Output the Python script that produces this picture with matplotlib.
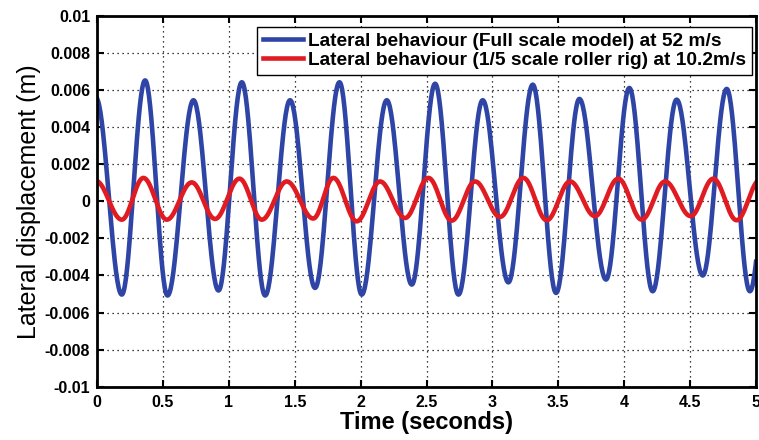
import numpy as np
import matplotlib
matplotlib.use('Agg')
import matplotlib.pyplot as plt

# Extrema (time in s, displacement in m)
blue_t = [-0.01, 0.187, 0.364, 0.534, 0.731, 0.921, 1.098, 1.275, 1.464, 1.654,
          1.839, 2.008, 2.198, 2.388, 2.565, 2.742, 2.926, 3.121, 3.306, 3.483,
          3.660, 3.862, 4.039, 4.216, 4.398, 4.596, 4.778, 4.954, 5.14]
blue_y = [0.0056, -0.00503, 0.00652, -0.00508, 0.00545, -0.00481, 0.00642, -0.00508,
          0.00545, -0.00467, 0.00642, -0.00503, 0.00545, -0.00449, 0.00634, -0.00503,
          0.00545, -0.00437, 0.00629, -0.00494, 0.00552, -0.00422, 0.00611, -0.00485,
          0.00548, -0.00400, 0.00606, -0.00485, 0.0060]

red_t = [-0.01, 0.187, 0.351, 0.529, 0.718, 0.895, 1.080, 1.250, 1.439, 1.640,
         1.793, 1.970, 2.147, 2.337, 2.514, 2.691, 2.868, 3.058, 3.235, 3.412,
         3.589, 3.778, 3.955, 4.133, 4.310, 4.505, 4.676, 4.853, 5.03]
red_y = [0.0011, -0.00099, 0.00126, -0.00099, 0.00102, -0.00095, 0.00122, -0.00099,
         0.00107, -0.00093, 0.00126, -0.00108, 0.00107, -0.00090, 0.00126, -0.00104,
         0.00107, -0.00084, 0.00126, -0.00102, 0.00107, -0.00080, 0.00122, -0.00099,
         0.00107, -0.00080, 0.00122, -0.00102, 0.00115]

labels = ['Lateral behaviour (Full scale model) at 52 m/s',
          'Lateral behaviour (1/5 scale roller rig) at 10.2m/s']
x_ticks = [0, 0.5, 1, 1.5, 2, 2.5, 3, 3.5, 4, 4.5, 5]
x_ticklabels = ['0', '0.5', '1', '1.5', '2', '2.5', '3', '3.5', '4', '4.5', '5']
y_ticks = [-0.01, -0.008, -0.006, -0.004, -0.002, 0, 0.002, 0.004, 0.006, 0.008, 0.01]
y_ticklabels = ['-0.01', '-0.008', '-0.006', '-0.004', '-0.002', '0',
                '0.002', '0.004', '0.006', '0.008', '0.01']


def smooth(ts, ys, n=40):
    # half-cosine segments between consecutive extrema
    xs, vs = [], []
    for i in range(len(ts) - 1):
        s = np.linspace(0, 1, n, endpoint=False)
        w = (1 - np.cos(np.pi * s)) / 2
        xs.append(ts[i] + (ts[i + 1] - ts[i]) * s)
        vs.append(ys[i] + (ys[i + 1] - ys[i]) * w)
    xs.append([ts[-1]])
    vs.append([ys[-1]])
    return np.concatenate(xs), np.concatenate(vs)


plt.rcParams['font.family'] = ['Liberation Sans', 'DejaVu Sans']

fig = plt.figure(figsize=(7.59, 4.40), dpi=100)
ax = fig.add_axes([0.128, 0.121, 0.868, 0.843])

bx, by = smooth(blue_t, blue_y)
rx, ry = smooth(red_t, red_y)
ax.plot(bx, by, color='#2f45a6', linewidth=3.3, label=labels[0])
ax.plot(rx, ry, color='#e01b22', linewidth=3.3, label=labels[1])

ax.set_xlim(0, 5)
ax.set_ylim(-0.01, 0.01)
ax.set_xticks(x_ticks)
ax.set_xticklabels(x_ticklabels)
ax.set_yticks(y_ticks)
ax.set_yticklabels(y_ticklabels)
ax.tick_params(direction='in', length=5, width=1.5, top=True, right=True,
               labelsize=11.5)
ax.tick_params(axis='x', pad=6)
ax.tick_params(axis='y', pad=5)
for lab in ax.get_xticklabels() + ax.get_yticklabels():
    lab.set_fontweight('bold')
ax.grid(True, linestyle=(0, (1, 3)), color='black', linewidth=0.9)
for sp in ax.spines.values():
    sp.set_linewidth(2)

ax.set_xlabel('Time (seconds)', fontsize=17, fontweight='bold', labelpad=1)
ax.set_ylabel('Lateral displacement (m)', fontsize=18, labelpad=3)

leg = ax.legend(loc='upper right', bbox_to_anchor=(0.994, 0.971),
                prop={'weight': 'bold', 'size': 13.8},
                fancybox=False, framealpha=1, edgecolor='black',
                handlelength=2.1, borderaxespad=0, borderpad=0.3,
                labelspacing=0.1, handletextpad=0.25)
leg.get_frame().set_linewidth(1)

fig.savefig('out.png', dpi=100)
